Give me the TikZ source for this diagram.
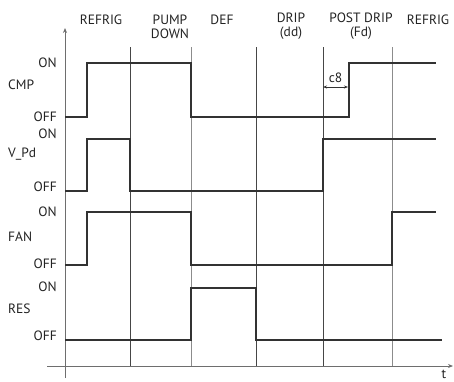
\documentclass[tikz,border=0pt]{standalone}
\usepackage{fontspec}
\setmainfont{PT Sans}
\usepackage{tikz}
\usetikzlibrary{arrows.meta}
\definecolor{sigdark}{RGB}{50,50,50}
\definecolor{griddark}{RGB}{70,70,70}
\definecolor{gridlight}{RGB}{140,140,140}
\definecolor{axisgray}{RGB}{110,110,110}
\definecolor{txtdark}{RGB}{35,35,35}

\begin{document}
\begin{tikzpicture}[x=1pt, y=-1pt, >=Stealth, line join=miter,
    font=\fontsize{13.5}{14}\selectfont, text=txtdark,
    sig/.style={sigdark, line width=2pt},
    grid/.style={griddark, line width=0.8pt},
    gridl/.style={gridlight, line width=0.8pt},
    axis/.style={axisgray, line width=0.8pt},
    lvl/.style={anchor=east, inner sep=0pt},
    sname/.style={anchor=west, inner sep=0pt},
    phase/.style={align=center, inner sep=0pt}]
  \path[use as bounding box] (0,0) rectangle (454,381);

  % Axes
  \coordinate (ybot) at (65,378);
  \coordinate (ytop) at (65,28);
  \coordinate (tleft) at (47,366);
  \coordinate (tright) at (453,366);
  \draw[axis, -{Stealth[length=5pt,width=4pt]}] (ybot) -- (ytop);
  \draw[axis, -{Stealth[length=5pt,width=4pt]}] (tleft) -- (tright);
  \node[inner sep=0pt] (tlab) at (444,374) {t};

  % Phase boundaries
  \foreach \x/\st in {130/grid,191/gridl,256/grid,323/grid,392/gridl} {
    \draw[\st] (\x,47) -- (\x,366);
  }

  % Phase labels
  \node[phase] (ph1) at (101,20) {REFRIG};
  \node[phase] (ph2) at (170,26.5) {PUMP\\DOWN};
  \node[phase] (ph3) at (222,20) {DEF};
  \node[phase] (ph4) at (291,26.5) {DRIP\\(dd)};
  \node[phase] (ph5) at (361,26.5) {POST DRIP\\(Fd)};
  \node[phase] (ph6) at (428,20) {REFRIG};

  % Signal names and levels
  \foreach \nm/\txt/\yon/\ymid/\yoff in {cmp/CMP/63/85/117, vpd/V\_Pd/134/154/187,
      fan/FAN/212/237/264, res/RES/287/309/336} {
    \node[lvl] (\nm on) at (57,\yon) {ON};
    \node[sname] (\nm) at (8,\ymid) {\txt};
    \node[lvl] (\nm off) at (57,\yoff) {OFF};
  }

  % Signals
  \draw[sig] (65,117) -- (87,117) -- (87,63) -- (191,63) -- (191,117)
    -- (349,117) -- (349,63) -- (436,63);
  \draw[sig] (65,191) -- (87,191) -- (87,139) -- (130,139) -- (130,191)
    -- (323,191) -- (323,139) -- (436,139);
  \draw[sig] (65,265) -- (87,265) -- (87,212) -- (191,212) -- (191,265)
    -- (392,265) -- (392,212) -- (436,212);
  \draw[sig] (65,340) -- (191,340) -- (191,288) -- (256,288) -- (256,340)
    -- (442,340);

  % Delay c8
  \coordinate (c8l) at (323,87);
  \coordinate (c8r) at (348,87);
  \draw[sigdark, line width=0.6pt, {Stealth[length=4pt,width=3pt]}-{Stealth[length=4pt,width=3pt]}] (c8l) -- (c8r);
  \node[inner sep=0pt] (c8) at (335.5,78) {c8};

\end{tikzpicture}
\end{document}
